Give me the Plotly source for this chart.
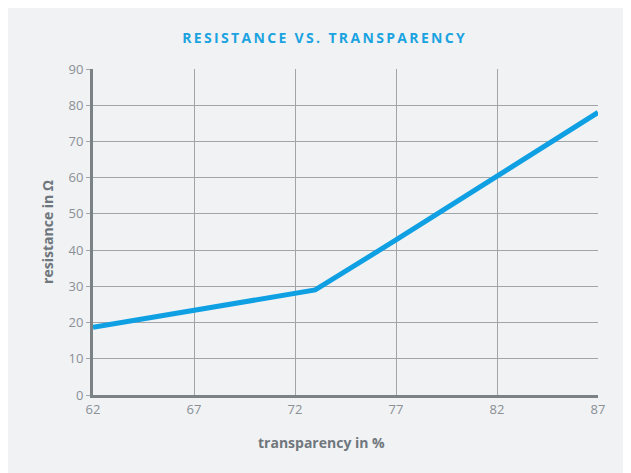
import plotly.graph_objects as go

transparency = [62, 73, 77, 82, 87]
resistance = [18.7, 29, 42.8, 60.4, 78]
x_ticks = [62, 67, 72, 77, 82, 87]
y_ticks = [0, 10, 20, 30, 40, 50, 60, 70, 80, 90]

title_text = "RESISTANCE VS. TRANSPARENCY"
spaced_title = "\u2006".join(title_text)

BG = "#f1f2f4"
fig = go.Figure()
fig.add_trace(go.Scatter(x=transparency, y=resistance, mode="lines",
                         line=dict(color="#0ea0e2", width=5), showlegend=False))

fig.update_layout(
    width=631, height=473,
    paper_bgcolor=BG, plot_bgcolor=BG,
    margin=dict(l=85, r=41, t=61, b=86),
    font=dict(family="Open Sans, DejaVu Sans, sans-serif", color="#858b90", size=12),
    title=dict(text="<b>" + spaced_title + "</b>",
               x=0.5, xanchor="center", y=0.937, yanchor="middle",
               font=dict(size=14, color="#1aa3e0", family="Open Sans, sans-serif")),
    xaxis=dict(range=[62, 87], tickvals=x_ticks, ticktext=[str(v) for v in x_ticks],
               showgrid=True, gridcolor="#a2a5a8", gridwidth=1,
               showline=True, linecolor="#7b8286", linewidth=3, zeroline=False,
               ticks="", tickfont=dict(size=13, color="#8a9095")),
    yaxis=dict(range=[0, 90], tickvals=y_ticks,
               showgrid=True, gridcolor="#a2a5a8", gridwidth=1,
               showline=True, linecolor="#7b8286", linewidth=3, zeroline=False,
               ticks="outside", ticklen=4, tickcolor="#a2a5a8",
               tickfont=dict(size=13, color="#8a9095"),
               title=dict(text="<b>resistance in Ω</b>", standoff=12,
                          font=dict(size=14, color="#6f777d"))),
    annotations=[dict(text="<b>transparency in %</b>", xref="paper", yref="paper",
                      x=0.4515, y=0, xanchor="center", yanchor="middle",
                      yshift=-47, showarrow=False,
                      font=dict(size=14, color="#6f777d"))],
)
fig.write_html("out.html")
